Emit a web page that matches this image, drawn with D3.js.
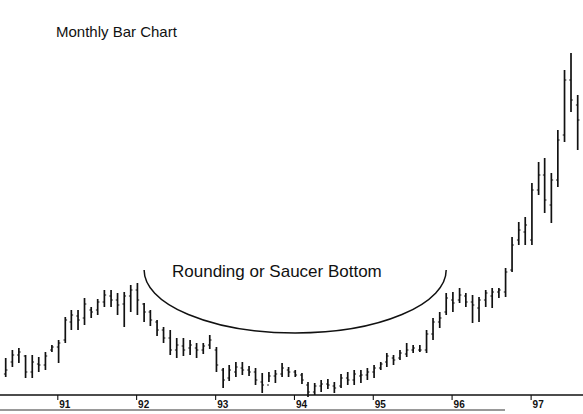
<!DOCTYPE html>
<html><head><meta charset="utf-8">
<script src="https://cdn.jsdelivr.net/npm/d3@7"></script>
<style>html,body{margin:0;padding:0;background:#fff;} svg{display:block;}</style>
</head><body>
<svg id="c" width="583" height="414"></svg>
<script>
// Monthly bars, May 1990 .. Aug 1997
const months = d3.timeMonth.range(new Date(1990, 4, 1), new Date(1997, 8, 1));
const highs = [42,50,52,45,45,43,48,55,60,83,90,90,102,93,101,110,110,107,108,115,117,97,90,80,
  73,70,62,62,60,57,57,65,53,32,35,38,38,34,32,27,28,30,37,33,30,27,18,17,20,21,18,26,28,30,
  30,32,35,38,47,45,50,57,55,55,70,82,88,107,108,112,107,105,103,110,112,112,132,163,178,183,
  217,238,242,227,270,330,347,305];
const lows = [23,33,37,22,22,28,30,48,37,57,70,70,75,82,85,93,93,85,73,88,85,78,74,64,
  57,45,42,44,45,42,46,51,28,12,19,23,25,24,15,7,18,17,23,23,23,16,3,5,8,11,7,12,15,15,
  17,20,22,30,33,35,40,43,47,48,47,60,72,85,88,97,93,77,78,93,92,102,103,128,155,155,
  155,205,187,177,213,258,288,250];
const opens = [26,38,45,44,28,36,35,50,53,60,78,84,82,90,90,98,104,100,96,104,110,96,88,78,
  70,62,50,54,52,52,50,55,50,30,22,28,32,30,28,18,15,24,26,30,28,25,15,8,14,16,14,14,22,20,
  24,25,28,32,38,42,42,46,50,50,50,66,78,88,100,100,104,98,92,100,104,108,108,130,160,168,
  160,210,225,195,220,265,320,295];
const closes = [30,45,48,28,38,35,44,53,57,80,85,80,96,88,98,105,100,95,104,110,100,88,80,70,
  62,50,55,50,55,50,54,60,35,20,30,33,30,28,20,15,24,26,32,28,25,20,8,14,16,15,12,22,20,26,
  25,28,32,36,44,40,47,50,52,50,66,78,82,102,97,105,98,95,100,107,108,110,128,155,170,175,
  210,225,200,220,260,320,300,280];
const yearTicks = [new Date(1991,0,1),new Date(1992,0,1),new Date(1993,0,1),new Date(1994,0,1),
  new Date(1995,0,1),new Date(1996,0,1),new Date(1997,0,1)];
const yearLabels = ["91","92","93","94","95","96","97"];
const titleText = "Monthly Bar Chart";
const noteText = "Rounding or Saucer Bottom";
// annotation arc in data terms: from/to month, rim value, bottom value
const arcFrom = new Date(1992, 1, 1), arcTo = new Date(1995, 11, 1);
const arcRim = 130, arcBottom = 67;

const svg = d3.select("#c");
const x = d3.scaleTime().domain([months[0], months[months.length - 1]]).range([5.7, 577.7]);
const y = d3.scaleLinear().domain([0, 400]).range([400, 0]);
const ink = "#111";

// bars
const bars = svg.append("g").attr("stroke", ink);
months.forEach((m, i) => {
  const cx = x(m);
  bars.append("line").attr("x1", cx).attr("x2", cx).attr("y1", y(highs[i])).attr("y2", y(lows[i]))
    .attr("stroke-width", 1.7);
  bars.append("line").attr("x1", cx - 1.8).attr("x2", cx).attr("y1", y(opens[i])).attr("y2", y(opens[i]))
    .attr("stroke-width", 1);
  bars.append("line").attr("x1", cx).attr("x2", cx + 1.8).attr("y1", y(closes[i])).attr("y2", y(closes[i]))
    .attr("stroke-width", 1);
});

// axis
const axisY = 395;
svg.append("line").attr("x1", 0).attr("x2", 583).attr("y1", axisY).attr("y2", axisY)
  .attr("stroke", ink).attr("stroke-width", 1.3);
svg.append("line").attr("x1", 0).attr("x2", 505).attr("y1", 410).attr("y2", 410)
  .attr("stroke", "#333").attr("stroke-width", 1);
const ax = svg.append("g").attr("transform", `translate(-1.3,${axisY})`)
  .call(d3.axisBottom(x).tickValues(yearTicks).tickSize(5).tickFormat((d, i) => yearLabels[i]));
ax.select(".domain").remove();
ax.selectAll(".tick line").attr("stroke", ink).attr("stroke-width", 1.1);
ax.selectAll(".tick text").attr("text-anchor", "start").attr("x", 1.5).attr("y", 5.5).attr("dy", "0.71em")
  .attr("fill", ink).style("font-family", "'Liberation Sans', Arial, sans-serif")
  .style("font-size", "10px").style("font-weight", "bold");

// title
svg.append("text").attr("x", 56).attr("y", 37).text(titleText)
  .attr("fill", ink).style("font-family", "'Liberation Sans', Arial, sans-serif").style("font-size", "15px");

// annotation
svg.append("text").attr("x", 172).attr("y", 277).text(noteText)
  .attr("fill", ink).style("font-family", "'Liberation Sans', Arial, sans-serif").style("font-size", "17px");
const ax1 = x(arcFrom), ax2 = x(arcTo), ay = y(arcRim), ry = y(arcBottom) - y(arcRim);
svg.append("path")
  .attr("d", `M${ax1},${ay} A${(ax2 - ax1) / 2},${ry} 0 0,0 ${ax2},${ay}`)
  .attr("fill", "none").attr("stroke", ink).attr("stroke-width", 1.5);
</script>
</body></html>
